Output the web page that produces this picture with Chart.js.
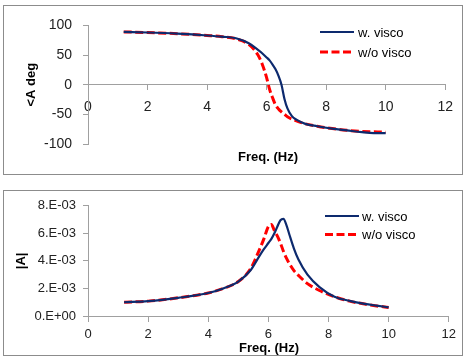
<!DOCTYPE html>
<html>
<head>
<meta charset="utf-8">
<script src="https://cdn.jsdelivr.net/npm/chart.js@4.4.1/dist/chart.umd.min.js"></script>
<style>
  html, body { margin: 0; padding: 0; background: #fff; }
  body { width: 464px; height: 359px; position: relative; overflow: hidden; }
  .box { position: absolute; left: 3px; width: 460px; box-sizing: border-box; border: 1px solid #8c8c8c; background: #fff; }
  #boxTop { top: 5px; height: 170px; }
  #boxBot { top: 190px; height: 166px; }
  canvas { display: block; }
</style>
</head>
<body>
<div class="box" id="boxTop"><canvas id="phaseChart"></canvas></div>
<div class="box" id="boxBot"><canvas id="ampChart"></canvas></div>
<script>
// --- DATA ---
const FREQ = [1.2, 2, 3, 4, 4.5, 5, 5.4, 5.7, 5.85, 6.0, 6.1, 6.2, 6.3, 6.4, 6.5, 6.6, 6.7, 6.85, 7.0, 7.3, 7.7, 8.2, 8.7, 9.2, 9.6, 10];

// phase (deg)
const PHASE_VISCO   = [89, 88, 86, 83, 81, 78, 70, 59, 53, 46, 41, 34, 26, 15, 0, -24, -40, -53, -59, -66, -70, -74, -77, -80, -81.5, -81.5];
const PHASE_NOVISCO = [89, 88, 86, 83, 81, 77, 68, 51, 35, 12, -8, -22, -34, -41, -46, -50, -54, -58, -61, -66, -70, -74, -77, -79, -79.5, -80];

// amplitude |A|
const AMP_VISCO   = [1.00e-3, 1.08e-3, 1.32e-3, 1.67e-3, 2.00e-3, 2.50e-3, 3.30e-3, 4.35e-3, 4.85e-3, 5.30e-3, 5.60e-3, 6.00e-3, 6.50e-3, 6.95e-3, 7.05e-3, 6.60e-3, 5.90e-3, 4.90e-3, 4.10e-3, 3.00e-3, 2.10e-3, 1.40e-3, 1.10e-3, 0.88e-3, 0.75e-3, 0.63e-3];
const AMP_NOVISCO = [1.00e-3, 1.08e-3, 1.32e-3, 1.67e-3, 2.00e-3, 2.50e-3, 3.40e-3, 4.80e-3, 5.60e-3, 6.50e-3, 6.65e-3, 6.20e-3, 5.80e-3, 5.30e-3, 4.70e-3, 4.20e-3, 3.80e-3, 3.30e-3, 2.95e-3, 2.35e-3, 1.85e-3, 1.40e-3, 1.08e-3, 0.87e-3, 0.73e-3, 0.62e-3];

const SERIES_NAMES = ['w. visco', 'w/o visco'];
const X_TICKS = [0, 2, 4, 6, 8, 10, 12];
const Y_TICKS_PHASE = [-100, -50, 0, 50, 100];
const Y_TICKS_AMP = [0, 2e-3, 4e-3, 6e-3, 8e-3];

// --- STYLE ---
const FONT = '"Liberation Sans", Arial, sans-serif';
const COLOR_VISCO = '#0d2a6e';
const COLOR_NOVISCO = '#ff0000';
const AXIS_COLOR = '#a0a0a0';

// format Excel "0.E+00"
function fmtExp(v) {
    if (v === 0) return '0.E+00';
    const e = Math.floor(Math.log10(Math.abs(v)) + 1e-9);
    const m = Math.round(v / Math.pow(10, e));
    const sign = e < 0 ? '-' : '+';
    const ae = Math.abs(e);
    return m + '.E' + sign + (ae < 10 ? '0' : '') + ae;
}

function toPoints(ys) {
    return FREQ.map((f, i) => ({ x: f, y: ys[i] }));
}

// titre X + légende dessinés à la main
const overlayPlugin = {
    id: 'overlay',
    afterDraw(chart, args, opts) {
        const ctx = chart.ctx;
        ctx.save();
        ctx.fillStyle = '#000';
        ctx.font = 'bold 13px ' + FONT;
        ctx.textAlign = 'center';
        ctx.textBaseline = 'middle';
        ctx.fillText(opts.xTitle, opts.xTitleX, opts.xTitleY);

        ctx.font = opts.legendFont + 'px ' + FONT;
        ctx.textAlign = 'left';
        chart.data.datasets.forEach((ds, i) => {
            const y = opts.legendY + i * opts.legendGap;
            ctx.beginPath();
            ctx.lineWidth = ds.borderWidth;
            ctx.strokeStyle = ds.borderColor;
            ctx.setLineDash(ds.borderDash || []);
            ctx.moveTo(opts.legendX, y);
            ctx.lineTo(opts.legendX + 34, y);
            ctx.stroke();
            ctx.setLineDash([]);
            ctx.fillStyle = '#000';
            ctx.fillText(ds.label, opts.legendX + opts.legendTextOff, y + 1);
        });
        ctx.restore();
    }
};

function makeChart(id, yA, yB, yTicks, cfg) {
    const ctx = document.getElementById(id).getContext('2d');
    return new Chart(ctx, {
        type: 'line',
        data: {
            datasets: [
                { label: SERIES_NAMES[0], data: toPoints(yA), borderColor: COLOR_VISCO, borderWidth: 2.2, pointRadius: 0, cubicInterpolationMode: 'monotone', fill: false },
                { label: SERIES_NAMES[1], data: toPoints(yB), borderColor: COLOR_NOVISCO, borderWidth: 3, borderDash: [8, 3.5], pointRadius: 0, cubicInterpolationMode: 'monotone', fill: false }
            ]
        },
        options: {
            responsive: true, maintainAspectRatio: false, animation: false, devicePixelRatio: 1,
            layout: { padding: cfg.padding },
            plugins: {
                legend: { display: false },
                tooltip: { enabled: false },
                overlay: cfg.overlay
            },
            scales: {
                x: {
                    type: 'linear', min: 0, max: 12,
                    position: { y: 0 },
                    afterBuildTicks: s => { s.ticks = X_TICKS.map(v => ({ value: v })); },
                    grid: { drawOnChartArea: false, drawTicks: true, tickLength: 5, color: AXIS_COLOR },
                    border: { display: true, color: AXIS_COLOR, width: 1 },
                    ticks: { padding: cfg.xPad, color: '#222', font: { family: FONT, size: cfg.xFont }, maxRotation: 0 }
                },
                y: {
                    type: 'linear', min: yTicks[0], max: yTicks[yTicks.length - 1],
                    position: 'left',
                    afterBuildTicks: s => { s.ticks = yTicks.map(v => ({ value: v })); },
                    afterFit: s => { s.width = cfg.yWidth; },
                    grid: { drawOnChartArea: false, drawTicks: true, tickLength: 5, color: AXIS_COLOR },
                    border: { display: true, color: AXIS_COLOR, width: 1 },
                    ticks: { padding: cfg.yPad, color: '#222', font: { family: FONT, size: cfg.yFont }, callback: cfg.yFmt },
                    title: { display: true, text: cfg.yTitle, color: '#000', font: { family: FONT, size: 13, weight: 'bold' }, padding: { top: cfg.yTitlePad, bottom: 0 } }
                }
            }
        },
        plugins: [overlayPlugin]
    });
}

document.addEventListener('DOMContentLoaded', () => {
    makeChart('phaseChart', PHASE_VISCO, PHASE_NOVISCO, Y_TICKS_PHASE, {
        padding: { left: 0, top: 17, right: 14, bottom: 30 },
        yWidth: 84, yPad: 11, yFont: 14, xPad: 9, xFont: 14,
        yTitle: '<A deg', yTitlePad: 20,
        yFmt: v => v,
        overlay: { xTitle: 'Freq. (Hz)', xTitleX: 264, xTitleY: 151, legendX: 316, legendY: 26, legendGap: 20, legendTextOff: 38, legendFont: 13 }
    });
    makeChart('ampChart', AMP_VISCO, AMP_NOVISCO, Y_TICKS_AMP, {
        padding: { left: 0, top: 12, right: 12, bottom: 39 },
        yWidth: 84, yPad: 7, yFont: 13, xPad: 6, xFont: 13,
        yTitle: '|A|', yTitlePad: 10,
        yFmt: v => fmtExp(v),
        overlay: { xTitle: 'Freq. (Hz)', xTitleX: 265, xTitleY: 157, legendX: 321, legendY: 25, legendGap: 18.5, legendTextOff: 37, legendFont: 13 }
    });
});
</script>
</body>
</html>
